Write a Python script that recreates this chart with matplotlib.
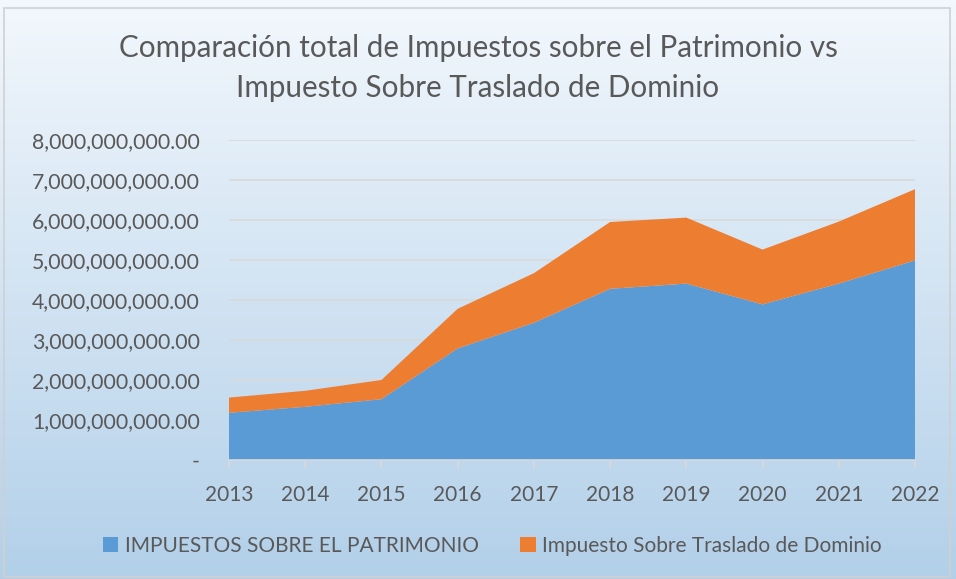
import numpy as np
import matplotlib.pyplot as plt
from matplotlib.patches import Rectangle
from matplotlib.ticker import FuncFormatter

# Data
years = [2013, 2014, 2015, 2016, 2017, 2018, 2019, 2020, 2021, 2022]
patrimonio = [1.18e9, 1.33e9, 1.52e9, 2.79e9, 3.43e9, 4.28e9, 4.41e9, 3.89e9, 4.41e9, 4.99e9]
traslado = [0.38e9, 0.40e9, 0.48e9, 0.99e9, 1.24e9, 1.67e9, 1.65e9, 1.37e9, 1.55e9, 1.78e9]
y_ticks = [0, 1e9, 2e9, 3e9, 4e9, 5e9, 6e9, 7e9, 8e9]

title = "Comparación total de Impuestos sobre el Patrimonio vs\nImpuesto Sobre Traslado de Dominio"
labels = ["IMPUESTOS SOBRE EL PATRIMONIO", "Impuesto Sobre Traslado de Dominio"]
colors = ["#5b9bd5", "#ed7d31"]
text_color = "#595959"

plt.rcParams['font.family'] = ['Lato', 'DejaVu Sans']

fig = plt.figure(figsize=(9.56, 5.79), dpi=100)

# Gradient background (white-ish top to light blue bottom)
bg = fig.add_axes([0, 0, 1, 1], zorder=-10)
grad = np.linspace(0, 1, 256)[:, None, None]
top = np.array([0.95, 0.97, 0.99])
bottom = np.array([0.70, 0.815, 0.915])
img = top * (1 - grad) + bottom * grad
bg.imshow(img, aspect='auto', extent=[0, 1, 0, 1], origin='upper')
bg.set_xlim(0, 1)
bg.set_ylim(0, 1)
bg.axis('off')
fig.patches.append(Rectangle((4 / 956, 2 / 579), 946 / 956, 569 / 579, transform=fig.transFigure,
                             fill=False, edgecolor="#d0d0d0", linewidth=1.2, zorder=5))

ax = fig.add_axes([229 / 956, 1 - 460 / 579, (915 - 229) / 956, (460 - 140) / 579])
ax.patch.set_alpha(0)

ax.stackplot(years, patrimonio, traslado, colors=colors, labels=labels, zorder=2,
             edgecolor='none')

ax.set_xlim(years[0], years[-1])
ax.set_ylim(0, 8e9)
ax.set_yticks(y_ticks)
ax.yaxis.set_major_formatter(FuncFormatter(lambda v, p: "-" if v == 0 else f"{v:,.2f}"))
ax.set_xticks(years)
ax.grid(axis='y', color="#d9d9d9", linewidth=1.2, zorder=1)
ax.set_axisbelow(True)

for s in ['top', 'right', 'left']:
    ax.spines[s].set_visible(False)
ax.spines['bottom'].set_color("#d9d9d9")
ax.spines['bottom'].set_linewidth(1.2)

ax.tick_params(axis='y', length=0, pad=21, labelsize=15.3, labelcolor=text_color)
ax.tick_params(axis='x', length=6, width=1.2, color="#d9d9d9", pad=12, labelsize=15,
               labelcolor=text_color)

fig.text(0.5, 1 - 68 / 579, title, ha='center', va='center', fontsize=21.3,
         color=text_color, linespacing=1.5)

fig.legend(loc='center', bbox_to_anchor=(0.515, 1 - 546 / 579), ncol=2, frameon=False,
           fontsize=15, labelcolor=text_color, handlelength=0.75, handleheight=0.75,
           handletextpad=0.3, columnspacing=2.0)

fig.savefig("out.png", dpi=100)
